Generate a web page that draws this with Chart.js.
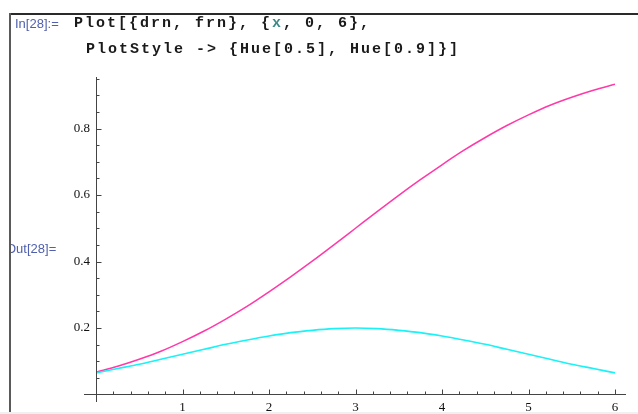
<!DOCTYPE html>
<html>
  <head>
    <title>Plot</title>
    <script src="https://cdn.jsdelivr.net/npm/chart.js@4"></script>
    <style>
      body { margin: 0; background: #fff; }
      #page { position: relative; width: 638px; height: 414px; overflow: hidden; background: #fff; }
      #canvas { position: absolute; left: 0; top: 0; }
      .lbl { position: absolute; font-family: 'Liberation Sans', Arial, sans-serif; font-size: 13px; line-height: 16px; color: #5060ac; white-space: pre; }
      .code { position: absolute; font-family: 'Liberation Mono', 'Courier New', monospace; font-weight: bold; font-size: 15px; line-height: 16px; letter-spacing: 2px; color: #1a1a1a; white-space: pre; }
      .var { color: #3d8a8a; }
      #cell { position: absolute; left: 10px; top: 14px; width: 628px; height: 398px; overflow: hidden; }
    </style>
  </head>
  <body>
    <div id="page">
      <canvas id="canvas" width="638" height="414"></canvas>
      <div class="lbl" style="left: 15px; top: 16px">In[28]:=</div>
      <div class="code" style="left: 74px; top: 16px">Plot[{drn, frn}, {<span class="var">x</span>, 0, 6},</div>
      <div class="code" style="left: 86px; top: 42px">PlotStyle -&gt; {Hue[0.5], Hue[0.9]}]</div>
      <div id="cell">
        <div class="lbl" style="left: -4px; top: 227px">Out[28]=</div>
      </div>
      <div style="position: absolute; left: 9px; top: 13px; width: 629px; height: 2px; background: #2a2a2a"></div>
      <div style="position: absolute; left: 9px; top: 13px; width: 2px; height: 401px; background: #5a5a5a"></div>
      <div style="position: absolute; left: 0; top: 412px; width: 638px; height: 2px; background: #f0f0f0"></div>
    </div>
    <script>
      // values
      const xs = [0, 0.25, 0.5, 0.75, 1, 1.25, 1.5, 1.75, 2, 2.25, 2.5, 2.75, 3,
        3.25, 3.5, 3.75, 4, 4.25, 4.5, 4.75, 5, 5.25, 5.5, 5.75, 6];
      const drn = [0.065, 0.078, 0.091, 0.106, 0.121, 0.136, 0.151, 0.164, 0.176, 0.186, 0.193, 0.198, 0.200,
        0.198, 0.193, 0.186, 0.176, 0.164, 0.151, 0.136, 0.121, 0.106, 0.091, 0.078, 0.065];
      const frn = [0.067, 0.085, 0.106, 0.130, 0.159, 0.191, 0.227, 0.266, 0.309, 0.354, 0.401, 0.450, 0.500,
        0.550, 0.599, 0.646, 0.691, 0.734, 0.773, 0.809, 0.841, 0.870, 0.894, 0.915, 0.933];
      const xTickLabels = [1, 2, 3, 4, 5, 6];
      const yTickLabels = [0.2, 0.4, 0.6, 0.8];

      const pts = (ys) => xs.map((x, i) => ({ x: x, y: ys[i] }));

      // Mathematica style axes crossing at the origin, ticks pointing inward
      const axesPlugin = {
        id: 'axes',
        afterDatasetsDraw(chart) {
          const { ctx, scales: { x, y } } = chart;
          const x0 = Math.round(x.getPixelForValue(0)) + 0.5;
          const y0 = Math.round(y.getPixelForValue(0)) - 0.5;
          ctx.save();
          ctx.strokeStyle = '#444';
          ctx.lineWidth = 1;
          ctx.beginPath();
          ctx.moveTo(84, y0); ctx.lineTo(626, y0);
          ctx.moveTo(x0, 77); ctx.lineTo(x0, 402);
          for (let i = 1; i <= 30; i++) {
            const px = Math.round(x.getPixelForValue(i * 0.2)) + 0.5;
            const len = i % 5 === 0 ? 5 : 3;
            ctx.moveTo(px, y0); ctx.lineTo(px, y0 - len);
          }
          for (let i = 1; i <= 19; i++) {
            const py = Math.round(y.getPixelForValue(i * 0.05)) + 0.5;
            const len = i % 4 === 0 ? 5 : 3;
            ctx.moveTo(x0, py); ctx.lineTo(x0 + len, py);
          }
          ctx.stroke();
          ctx.restore();
        }
      };

      const tickFont = { family: "'Liberation Serif', 'Times New Roman', serif", size: 13 };

      new Chart(document.getElementById('canvas'), {
        type: 'line',
        data: {
          datasets: [
            { label: 'drn', data: pts(drn), borderColor: '#19f2f6', borderWidth: 1.6 },
            { label: 'frn', data: pts(frn), borderColor: '#ff3aa8', borderWidth: 1.5 },
          ],
        },
        options: {
          responsive: false,
          animation: false,
          events: [],
          elements: { point: { radius: 0 }, line: { cubicInterpolationMode: 'monotone' } },
          layout: { padding: { top: 77, right: 23, bottom: 0, left: 0 } },
          plugins: { legend: { display: false }, tooltip: { enabled: false } },
          scales: {
            x: {
              type: 'linear',
              min: 0,
              max: 6,
              grid: { display: false, drawTicks: false },
              border: { display: false },
              afterFit: (s) => { s.height = 19.5; },
              ticks: {
                stepSize: 1,
                padding: 5,
                color: '#111',
                font: tickFont,
                maxRotation: 0,
                callback: (v) => (xTickLabels.includes(v) ? String(v) : null),
              },
            },
            y: {
              min: 0,
              max: 0.955,
              grid: { display: false, drawTicks: false },
              border: { display: false },
              afterFit: (s) => { s.width = 96; },
              ticks: {
                stepSize: 0.2,
                includeBounds: false,
                padding: 6,
                color: '#111',
                font: tickFont,
                callback: (v) => {
                  const r = Math.round(v * 10) / 10;
                  return yTickLabels.includes(r) && Math.abs(r - v) < 1e-6 ? r.toFixed(1) : null;
                },
              },
            },
          },
        },
        plugins: [axesPlugin],
      });
    </script>
  </body>
</html>
